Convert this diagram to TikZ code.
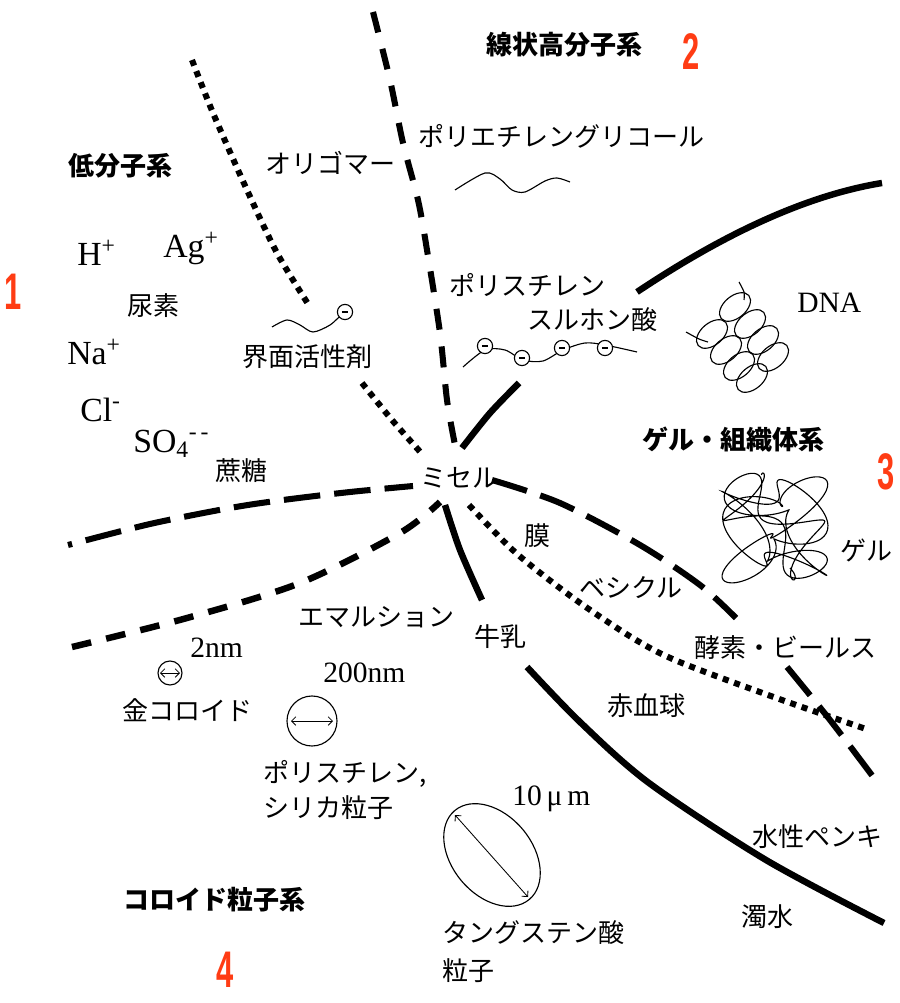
\documentclass[tikz,border=0pt]{standalone}
\usepackage{fontspec}
\usepackage{xcolor}
\usetikzlibrary{arrows.meta, positioning, calc}
\setmainfont{Liberation Serif}
\newfontfamily\jpfont{Noto Sans CJK JP}
\newfontfamily\numfont{Liberation Sans}
\definecolor{numred}{RGB}{255,60,20}

\begin{document}
\begin{tikzpicture}[x=0.025cm, y=-0.025cm,
    jp/.style={font=\jpfont\fontsize{18.5}{25}\selectfont, inner sep=0pt, anchor=west},
    jphead/.style={jp, font=\jpfont\bfseries\fontsize{18.5}{25}\selectfont},
    chem/.style={font=\fontsize{24}{28}\selectfont, inner sep=0pt, anchor=base west},
    meas/.style={font=\fontsize{21}{25}\selectfont, inner sep=0pt, anchor=base west},
    regnum/.style={font=\numfont\bfseries\fontsize{36.6}{40}\selectfont, text=numred, inner sep=0pt},
    wall/.style={line width=4.6pt},
    dashwall/.style={line width=4.3pt, dash pattern=on 26pt off 10pt},
    shortdash/.style={line width=4.3pt, dash pattern=on 15pt off 12pt},
    dotwall/.style={line width=4.3pt, dash pattern=on 4.3pt off 4.2pt},
    chain/.style={line width=0.8pt},
    anion/.style={circle, draw, fill=white, line width=0.8pt, minimum size=0.38cm, inner sep=0pt},
    span/.style={line width=0.6pt, {Straight Barb[length=3pt]}-{Straight Barb[length=3pt]}}]

    \fill[white] (0,0) rectangle (899,1003);
    \useasboundingbox (0,0) rectangle (899,1003);

    % boundaries between the four regions
    \draw[dotwall] plot[smooth] coordinates {(192,60) (213,113) (247,190) (277,253) (310,307)};
    \draw[dotwall] plot[smooth] coordinates {(362,383) (392,420) (423,455)};
    \draw[dotwall] plot[smooth] coordinates {(469,505) (516,553) (576,600) (636,640) (682,663) (782,700) (869,730)};
    \draw[shortdash] plot[smooth] coordinates {(373,12) (390,80) (403,143) (418,200) (427,250) (440,333) (447,400) (455,445)};
    \draw[wall] (882,183) .. controls (790,198) and (700,250) .. (637,292);
    \draw[wall] plot[smooth] coordinates {(519,383) (490,413) (462,448)};
    \draw[wall] plot[smooth] coordinates {(445,505) (460,550) (482,600)};
    \draw[wall] plot[smooth] coordinates {(527,667) (580,722) (649,783) (766,860) (884,923)};
    \draw[dashwall, dash phase=23pt] plot[smooth] coordinates {(68,545) (150,524) (230,508) (283,500) (350,492) (413,486)};
    \draw[dashwall] plot[smooth] coordinates {(492,480) (560,503) (640,545) (700,585) (736,618)};
    \draw[dashwall] plot[smooth] coordinates {(787,667) (830,720) (877,782)};
    \draw[line width=4.6pt, dash pattern=on 14pt off 11pt] plot[smooth] coordinates {(72,647) (187,618) (300,583) (400,533) (440,502)};

    % region headings
    \node[jphead] (lowmol) at (68,166) {低分子系};
    \node[jphead] (linpoly) at (486,45) {線状高分子系};
    \node[jphead] (gelsys) at (642,440) {ゲル・組織体系};
    \node[jphead] (colloid) at (123,900) {コロイド粒子系};
    \node[regnum] (num1) at (13,292) {\scalebox{0.6}[1]{1}};
    \node[regnum] (num2) at (691,52) {\scalebox{0.6}[1]{2}};
    \node[regnum] (num3) at (886,472) {\scalebox{0.6}[1]{3}};
    \node[regnum] (num4) at (225,970) {\scalebox{0.6}[1]{4}};

    % small molecules
    \node[chem] (hion) at (77,266) {H\textsuperscript{+}};
    \node[chem] (agion) at (163,258) {Ag\textsuperscript{+}};
    \node[chem] (naion) at (67,365) {Na\textsuperscript{+}};
    \node[chem] (clion) at (80,421) {Cl\textsuperscript{-}};
    \node[chem] (soion) at (133,452) {SO\textsubscript{4}\textsuperscript{-\,-}};
    \node[jp] (urea) at (127,306) {尿素};
    \node[jp] (sucrose) at (215,471) {蔗糖};

    % polymers
    \node[jp] (oligo) at (265,163) {オリゴマー};
    \node[jp] (peg) at (418,136) {ポリエチレングリコール};
    \draw[chain] plot[smooth] coordinates {(455,190) (485,173) (500,179) (512,190) (525,192) (545,181) (557,178) (570,182)};
    \node[jp] (surf) at (242,357) {界面活性剤};
    \draw[chain] plot[smooth] coordinates {(272,327) (287,320) (300,325) (313,332) (330,325) (342,314)};
    \node[anion] (head) at (345,312) {\rule{4.5pt}{1.5pt}};
    \node[jp] (pss1) at (449,285) {ポリスチレン};
    \node[jp] (pss2) at (527,320) {スルホン酸};
    \draw[chain] plot[smooth] coordinates {(463,367) (485,350) (505,350) (523,360) (543,361) (563,350) (585,343) (605,345) (637,352)};
    \foreach \cx/\cy [count=\i] in {485/346, 522/358, 562/348, 605/348}
        \node[anion] (so\i) at (\cx,\cy) {\rule{4.5pt}{1.5pt}};
    \node[meas] (dna) at (797,313) {DNA};
    \foreach \cx/\cy in {735/307, 750/324, 763/340, 773/357, 712/334, 726/350, 739/366, 752/378}
        \draw[chain, rotate around={40:(\cx,\cy)}] (\cx,\cy) ellipse [x radius=18, y radius=11];
    \draw[chain] plot[smooth] coordinates {(686,332) (699,339) (708,342)};
    \draw[chain] plot[smooth] coordinates {(739,282) (744,292) (744,300)};

    % gels and associates
    \draw[chain] plot[domain=0:26, samples=420, smooth]
        ({775+38*sin(deg(1.2*\x))+15*cos(deg(3.7*\x))}, {528+40*cos(deg(0.85*\x))+15*sin(deg(3.1*\x))});
    \node[jp] (gel) at (840,550) {ゲル};
    \node[jp] (micelle) at (420,478) {ミセル};
    \node[jp] (memb) at (524,536) {膜};
    \node[jp] (vesicle) at (579,588) {ベシクル};
    \node[jp] (emul) at (298,617) {エマルション};
    \node[jp] (milk) at (474,637) {牛乳};
    \node[jp] (enzyme) at (694,648) {酵素・ビールス};
    \node[jp] (rbc) at (607,706) {赤血球};
    \node[jp] (paint) at (752,837) {水性ペンキ};
    \node[jp] (muddy) at (741,917) {濁水};

    % colloid particles
    \node[meas] (nm2) at (190,657) {2nm};
    \coordinate (gold) at (170,673);
    \draw[chain] (gold) circle [radius=12];
    \draw[span] ($(gold)+(-10,0)$) -- ($(gold)+(10,0)$);
    \node[jp] (goldlbl) at (122,710) {金コロイド};
    \node[meas] (nm200) at (323,682) {200nm};
    \coordinate (latex) at (312,721);
    \draw[chain] (latex) circle [radius=25];
    \draw[span] ($(latex)+(-21,0)$) -- ($(latex)+(21,0)$);
    \node[jp, anchor=north west, align=left] (silica) at (263,760) {ポリスチレン,\\シリカ粒子};
    \node[meas] (um10) at (512,805) {10\,μ\,m};
    \coordinate (tung) at (492,855);
    \draw[chain, rotate around={-50:(tung)}] (tung) ellipse [x radius=58, y radius=40];
    \draw[span] ($(tung)+(-37,-40)$) -- ($(tung)+(36,42)$);
    \node[jp, anchor=north west, align=left, font=\jpfont\fontsize{18.5}{27}\selectfont] (tungsten) at (442,920) {タングステン酸\\粒子};
\end{tikzpicture}
\end{document}
